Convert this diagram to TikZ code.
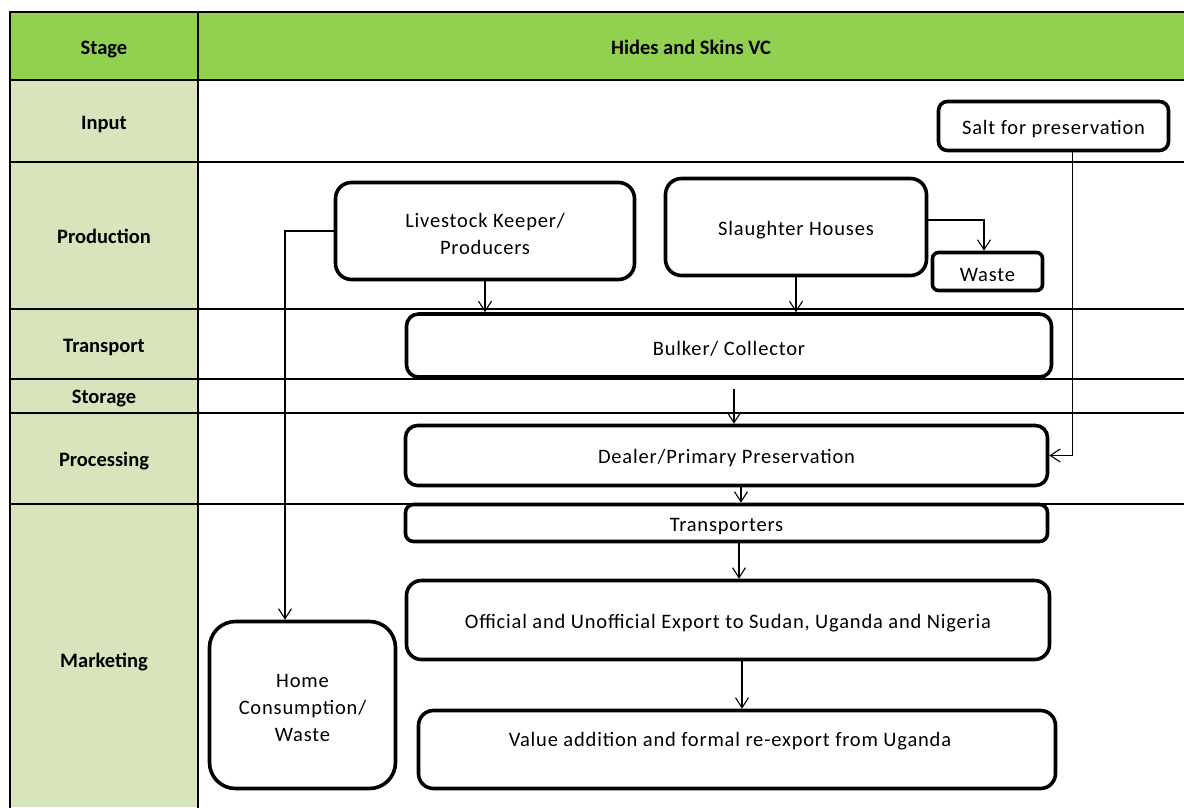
\documentclass[tikz,border=0pt]{standalone}
\usepackage{fontspec}
\setmainfont{Carlito}
\newfontfamily\boxfont{Carlito}[LetterSpace=4]
\usetikzlibrary{arrows.meta}
\definecolor{hdrgreen}{HTML}{92D050}
\definecolor{stagegreen}{HTML}{D8E4BC}
\newcommand{\firstline}{\rule{0pt}{20pt}}
\begin{document}
\begin{tikzpicture}[x=1pt,y=-1pt,
  grid/.style={line width=1.8pt, line cap=rect},
  flowbox/.style={draw, line width=3.6pt, fill=white, rounded corners=#1,
    inner sep=0pt, align=center, font=\boxfont\fontsize{20.5}{27}\selectfont},
  flowbox/.default=14pt,
  boxtext/.style={font=\boxfont\fontsize{20.5}{27}\selectfont, inner sep=0pt},
  stagelbl/.style={font=\bfseries\fontsize{20.5}{24}\selectfont,
    text height=19pt, text depth=4pt},
  flow/.style={line width=1.1pt, -{Straight Barb[length=10pt,width=13pt]}}
]
\useasboundingbox (0,0) rectangle (1184,807);

% table background
\fill[hdrgreen] (10,12) rectangle (1184,80);
\fill[stagegreen] (10,80) rectangle (198,807);

% table rules
\draw[grid] (1184,12) -- (10,12) -- (10,807);
\draw[grid] (198,12) -- (198,807);
\foreach \yy in {80,162,309,379,413,504}
  \draw[grid] (10,\yy) -- (1184,\yy);

% header and stage labels
\node[stagelbl] (stage) at (104,47) {Stage};
\node[stagelbl] (vc) at (691,47) {Hides and Skins VC};
\node[stagelbl] (input) at (104,122) {Input};
\node[stagelbl] (production) at (104,236) {Production};
\node[stagelbl] (transport) at (104,345) {Transport};
\node[stagelbl] (storage) at (104,396) {Storage};
\node[stagelbl] (processing) at (104,459) {Processing};
\node[stagelbl] (marketing) at (104,660) {Marketing};

% actors
\node[flowbox=9pt, minimum width=230pt, minimum height=49pt] (salt) at (1053.5,126) {\firstline Salt for preservation};
\node[flowbox=16pt, minimum width=299pt, minimum height=97pt] (live) at (485,231) {\firstline Livestock Keeper/\\Producers};
\node[flowbox=16pt, minimum width=261pt, minimum height=97pt] (slaughter) at (796,227) {\firstline Slaughter Houses};
\node[flowbox=6pt, minimum width=110pt, minimum height=38pt] (waste) at (987.5,271.5) {\firstline Waste};
\node[flowbox=12pt, minimum width=645pt, minimum height=63pt] (bulker) at (729,345.5) {\firstline Bulker/ Collector};
\node[flowbox=12pt, minimum width=642pt, minimum height=60pt] (dealer) at (726.5,455.5) {\firstline Dealer/Primary Preservation};
\node[flowbox=8pt, minimum width=642pt, minimum height=37pt] (transp) at (726.5,523) {\firstline Transporters};
\node[flowbox=15pt, minimum width=643pt, minimum height=79pt] (official) at (728,620) {\firstline Official and Unofficial Export to Sudan, Uganda and Nigeria};
\node[flowbox=15pt, minimum width=637pt, minimum height=78pt] (value) at (737,749.5) {};
\node[boxtext] (valuetxt) at (730,738) {\firstline Value addition and formal re-export from Uganda};
\node[flowbox=26pt, minimum width=186pt, minimum height=167pt] (home) at (302.5,705) {\firstline Home\\Consumption/\\Waste};

% flows
\draw[flow] (live.west) -| ([xshift=-17.5pt]home.north);
\draw[flow] (live.south) -- (live.south |- bulker.north);
\draw[flow] (slaughter.south) -- (slaughter.south |- bulker.north);
\draw[flow] ([yshift=7pt]slaughter.east) -| ([xshift=-3.5pt]waste.north);
\draw[flow] ([xshift=19pt]salt.south) |- (dealer.east);
\draw[flow] ([xshift=5pt,yshift=-10pt]bulker.south) -- ([xshift=5pt]bulker.south |- dealer.north);
\draw[flow] ([xshift=14.5pt]dealer.south) -- ([xshift=14.5pt]dealer.south |- transp.north);
\draw[flow] ([xshift=12.5pt]transp.south) -- ([xshift=12.5pt]transp.south |- official.north);
\draw[flow] ([xshift=14pt]official.south) -- ([xshift=14pt]official.south |- value.north);
\end{tikzpicture}
\end{document}
